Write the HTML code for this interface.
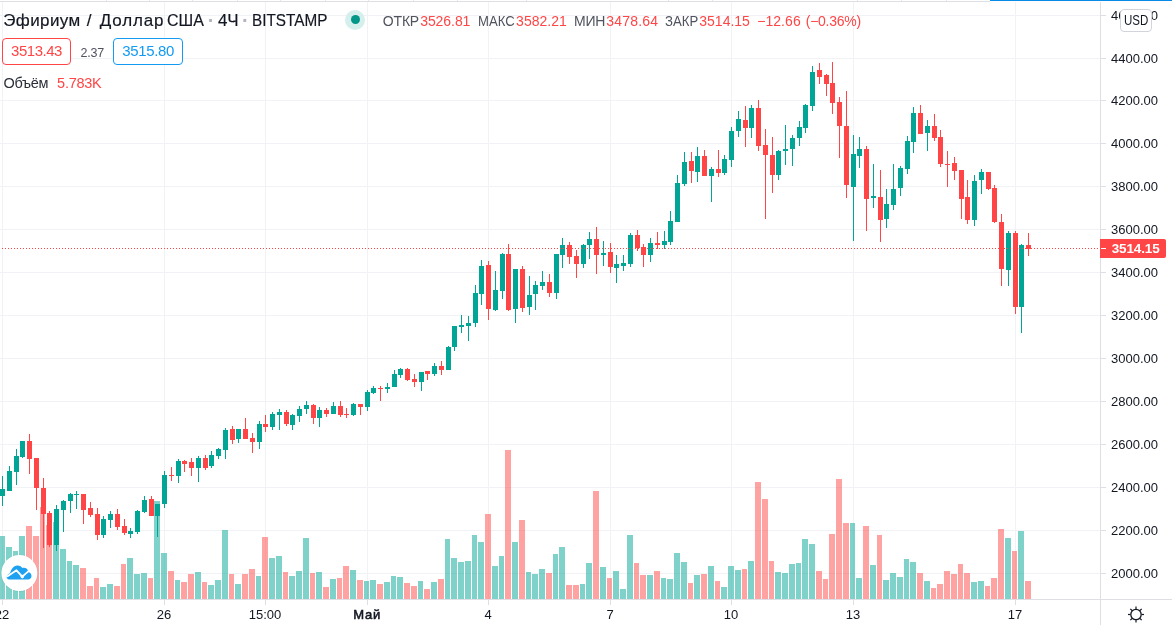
<!DOCTYPE html>
<html lang="ru"><head><meta charset="utf-8"><title>ETHUSD</title>
<style>
html,body{margin:0;padding:0;background:#fff}
body{width:1172px;height:625px;position:relative;overflow:hidden;font-family:"Liberation Sans",sans-serif;color:#131722}
.t{position:absolute;white-space:nowrap;line-height:1}
.pl{left:1111px;font-size:13px;width:47px;text-align:left}
.tl{top:608px;font-size:13px;text-align:center;width:60px}

.box{position:absolute;box-sizing:border-box;border:1px solid;border-radius:4px;background:#fff}
</style></head><body>

<svg width="1172" height="625" viewBox="0 0 1172 625" shape-rendering="crispEdges" style="position:absolute;left:0;top:0">
<path fill="#f1f2f5" d="M0 15h1100v1H0zM0 58h1100v1H0zM0 100h1100v1H0zM0 143h1100v1H0zM0 186h1100v1H0zM0 229h1100v1H0zM0 272h1100v1H0zM0 315h1100v1H0zM0 358h1100v1H0zM0 401h1100v1H0zM0 444h1100v1H0zM0 487h1100v1H0zM0 530h1100v1H0zM0 573h1100v1H0zM2 2h1v597h-1zM164 2h1v597h-1zM265 2h1v597h-1zM367 2h1v597h-1zM488 2h1v597h-1zM610 2h1v597h-1zM731 2h1v597h-1zM853 2h1v597h-1zM1015 2h1v597h-1z"/>
<path fill="#00a596" fill-opacity=".5" d="M-1 536H5V599H-1zM6 547H12V599H6zM13 551H18V599H13zM19 536H25V599H19zM53 522H59V599H53zM60 549H66V599H60zM67 561H72V599H67zM73 565H79V599H73zM100 587H106V599H100zM107 584H113V599H107zM127 558H133V599H127zM134 574H140V599H134zM141 573H147V599H141zM154 501H160V599H154zM161 553H167V599H161zM175 580H180V599H175zM195 572H201V599H195zM208 585H214V599H208zM215 580H221V599H215zM222 530H228V599H222zM235 584H241V599H235zM256 576H261V599H256zM269 558H275V599H269zM276 556H282V599H276zM289 576H295V599H289zM296 571H302V599H296zM303 538H309V599H303zM316 572H322V599H316zM330 579H336V599H330zM350 570H356V599H350zM364 581H369V599H364zM370 580H376V599H370zM384 582H390V599H384zM391 576H396V599H391zM397 577H403V599H397zM418 581H423V599H418zM431 582H437V599H431zM445 539H450V599H445zM451 558H457V599H451zM458 562H464V599H458zM465 561H471V599H465zM472 535H477V599H472zM478 542H484V599H478zM492 566H498V599H492zM499 556H504V599H499zM512 542H518V599H512zM526 572H531V599H526zM532 574H538V599H532zM539 569H545V599H539zM553 554H558V599H553zM559 547H565V599H559zM580 584H585V599H580zM586 563H592V599H586zM600 567H606V599H600zM613 571H619V599H613zM620 589H626V599H620zM627 535H633V599H627zM647 575H653V599H647zM661 578H666V599H661zM667 579H673V599H667zM674 553H680V599H674zM681 562H687V599H681zM694 575H700V599H694zM708 566H714V599H708zM721 587H727V599H721zM728 566H734V599H728zM735 570H741V599H735zM748 561H754V599H748zM775 572H781V599H775zM782 573H788V599H782zM789 564H795V599H789zM796 563H801V599H796zM802 539H808V599H802zM809 544H815V599H809zM850 523H855V599H850zM856 578H862V599H856zM870 565H876V599H870zM883 580H889V599H883zM890 573H896V599H890zM897 577H903V599H897zM904 559H909V599H904zM910 562H916V599H910zM924 581H930V599H924zM971 582H977V599H971zM978 581H984V599H978zM1005 538H1011V599H1005zM1018 531H1024V599H1018z"/>
<path fill="#ff4545" fill-opacity=".5" d="M26 526H32V599H26zM33 536H39V599H33zM40 507H45V599H40zM46 525H52V599H46zM80 568H86V599H80zM87 586H93V599H87zM94 578H99V599H94zM114 586H120V599H114zM121 564H126V599H121zM148 578H153V599H148zM168 571H174V599H168zM181 582H187V599H181zM188 574H194V599H188zM202 582H207V599H202zM229 574H234V599H229zM242 574H248V599H242zM249 569H255V599H249zM262 537H268V599H262zM283 572H288V599H283zM310 573H315V599H310zM323 587H329V599H323zM337 578H342V599H337zM343 566H349V599H343zM357 580H363V599H357zM377 584H383V599H377zM404 583H410V599H404zM411 586H417V599H411zM424 589H430V599H424zM438 579H444V599H438zM485 514H491V599H485zM505 450H511V599H505zM519 520H525V599H519zM546 573H552V599H546zM566 585H572V599H566zM573 585H579V599H573zM593 491H599V599H593zM607 578H612V599H607zM634 563H639V599H634zM640 575H646V599H640zM654 571H660V599H654zM688 583H693V599H688zM701 574H707V599H701zM715 581H720V599H715zM742 569H747V599H742zM755 482H761V599H755zM762 499H768V599H762zM769 561H774V599H769zM816 571H822V599H816zM823 579H828V599H823zM829 534H835V599H829zM836 479H842V599H836zM843 523H849V599H843zM863 526H869V599H863zM877 535H882V599H877zM917 573H923V599H917zM931 588H936V599H931zM937 584H943V599H937zM944 571H950V599H944zM951 574H957V599H951zM958 564H963V599H958zM964 573H970V599H964zM985 586H990V599H985zM991 578H997V599H991zM998 529H1004V599H998zM1012 551H1017V599H1012zM1025 581H1031V599H1025z"/>
<path fill="#00a596" d="M2 476h1V506h-1zM0 489h5V496h-5zM9 466h1V491h-1zM7 471h5V491h-5zM16 449h1V485h-1zM14 456h5V472h-5zM22 441h1V458h-1zM20 441h5V457h-5zM56 505h1V551h-1zM54 509h5V545h-5zM63 500h1V532h-1zM61 501h5V510h-5zM70 493h1V513h-1zM68 494h5V501h-5zM76 491h1V509h-1zM74 494h5V495h-5zM103 516h1V538h-1zM101 519h5V535h-5zM110 511h1V528h-1zM108 514h5V520h-5zM130 528h1V538h-1zM128 531h5V534h-5zM137 510h1V534h-1zM135 511h5V532h-5zM144 496h1V513h-1zM142 500h5V512h-5zM157 504h1V537h-1zM155 504h5V516h-5zM164 471h1V508h-1zM162 475h5V504h-5zM178 459h1V483h-1zM176 461h5V476h-5zM198 456h1V482h-1zM196 458h5V468h-5zM211 451h1V468h-1zM209 455h5V466h-5zM218 448h1V459h-1zM216 449h5V456h-5zM225 428h1V459h-1zM223 430h5V450h-5zM238 429h1V443h-1zM236 429h5V439h-5zM259 421h1V449h-1zM257 424h5V442h-5zM272 412h1V430h-1zM270 414h5V427h-5zM279 409h1V430h-1zM277 412h5V415h-5zM292 414h1V430h-1zM290 415h5V425h-5zM299 406h1V422h-1zM297 409h5V416h-5zM306 401h1V414h-1zM304 405h5V409h-5zM319 407h1V427h-1zM317 410h5V418h-5zM333 402h1V414h-1zM331 406h5V414h-5zM353 403h1V416h-1zM351 404h5V415h-5zM367 390h1V411h-1zM365 392h5V407h-5zM373 386h1V394h-1zM371 388h5V393h-5zM387 383h1V393h-1zM385 387h5V389h-5zM394 370h1V387h-1zM392 374h5V387h-5zM400 368h1V378h-1zM398 369h5V375h-5zM421 372h1V391h-1zM419 372h5V382h-5zM434 363h1V376h-1zM432 366h5V374h-5zM448 346h1V370h-1zM446 347h5V370h-5zM454 326h1V351h-1zM452 326h5V347h-5zM461 315h1V333h-1zM459 325h5V327h-5zM468 316h1V341h-1zM466 323h5V326h-5zM475 285h1V327h-1zM473 293h5V323h-5zM481 260h1V305h-1zM479 266h5V294h-5zM495 271h1V311h-1zM493 290h5V310h-5zM502 253h1V299h-1zM500 254h5V291h-5zM515 269h1V323h-1zM513 269h5V309h-5zM529 276h1V315h-1zM527 295h5V307h-5zM535 281h1V310h-1zM533 285h5V294h-5zM542 271h1V290h-1zM540 282h5V286h-5zM556 254h1V299h-1zM554 254h5V293h-5zM562 238h1V268h-1zM560 245h5V255h-5zM583 244h1V268h-1zM581 245h5V264h-5zM589 232h1V259h-1zM587 239h5V245h-5zM603 241h1V266h-1zM601 253h5V255h-5zM616 255h1V283h-1zM614 264h5V268h-5zM623 255h1V271h-1zM621 263h5V266h-5zM630 233h1V267h-1zM628 235h5V264h-5zM650 238h1V262h-1zM648 243h5V255h-5zM664 231h1V249h-1zM662 241h5V245h-5zM670 211h1V245h-1zM668 221h5V242h-5zM677 175h1V222h-1zM675 183h5V222h-5zM684 152h1V186h-1zM682 162h5V184h-5zM697 147h1V182h-1zM695 156h5V172h-5zM711 167h1V202h-1zM709 169h5V176h-5zM724 155h1V175h-1zM722 159h5V173h-5zM731 127h1V167h-1zM729 131h5V160h-5zM738 111h1V137h-1zM736 119h5V131h-5zM751 105h1V138h-1zM749 108h5V128h-5zM778 150h1V180h-1zM776 151h5V175h-5zM785 125h1V165h-1zM783 149h5V151h-5zM792 135h1V166h-1zM790 138h5V149h-5zM799 121h1V146h-1zM797 127h5V138h-5zM805 104h1V133h-1zM803 105h5V128h-5zM812 66h1V111h-1zM810 72h5V106h-5zM853 135h1V241h-1zM851 154h5V187h-5zM859 137h1V168h-1zM857 149h5V156h-5zM873 164h1V208h-1zM871 196h5V198h-5zM886 189h1V228h-1zM884 204h5V219h-5zM893 164h1V210h-1zM891 189h5V205h-5zM900 166h1V196h-1zM898 168h5V188h-5zM907 136h1V174h-1zM905 141h5V169h-5zM913 107h1V153h-1zM911 113h5V142h-5zM927 120h1V151h-1zM925 126h5V133h-5zM974 175h1V226h-1zM972 181h5V220h-5zM981 169h1V194h-1zM979 172h5V180h-5zM1008 231h1V286h-1zM1006 233h5V270h-5zM1021 244h1V333h-1zM1019 245h5V307h-5z"/>
<path fill="#ff4545" d="M29 434h1V474h-1zM27 441h5V459h-5zM36 458h1V510h-1zM34 458h5V488h-5zM43 478h1V548h-1zM41 488h5V514h-5zM49 511h1V547h-1zM47 513h5V545h-5zM83 494h1V524h-1zM81 494h5V510h-5zM90 502h1V517h-1zM88 508h5V515h-5zM97 508h1V540h-1zM95 514h5V535h-5zM117 509h1V530h-1zM115 514h5V527h-5zM124 519h1V535h-1zM122 526h5V533h-5zM151 496h1V516h-1zM149 499h5V516h-5zM171 467h1V481h-1zM169 475h5V476h-5zM184 460h1V472h-1zM182 461h5V464h-5zM191 458h1V476h-1zM189 462h5V468h-5zM205 455h1V470h-1zM203 458h5V468h-5zM232 426h1V444h-1zM230 429h5V440h-5zM245 418h1V439h-1zM243 429h5V439h-5zM252 433h1V453h-1zM250 438h5V442h-5zM265 415h1V432h-1zM263 424h5V427h-5zM286 410h1V426h-1zM284 412h5V424h-5zM313 404h1V424h-1zM311 405h5V418h-5zM326 408h1V417h-1zM324 410h5V414h-5zM340 401h1V417h-1zM338 406h5V415h-5zM346 408h1V418h-1zM344 414h5V415h-5zM360 404h1V415h-1zM358 404h5V407h-5zM380 386h1V401h-1zM378 388h5V389h-5zM407 368h1V381h-1zM405 369h5V380h-5zM414 374h1V387h-1zM412 379h5V382h-5zM427 371h1V380h-1zM425 371h5V374h-5zM441 361h1V375h-1zM439 366h5V370h-5zM488 261h1V320h-1zM486 265h5V309h-5zM508 244h1V311h-1zM506 254h5V310h-5zM522 266h1V312h-1zM520 269h5V308h-5zM549 274h1V297h-1zM547 282h5V293h-5zM569 242h1V264h-1zM567 245h5V257h-5zM576 250h1V278h-1zM574 256h5V264h-5zM596 227h1V274h-1zM594 239h5V255h-5zM610 243h1V273h-1zM608 252h5V267h-5zM637 230h1V251h-1zM635 235h5V248h-5zM643 244h1V267h-1zM641 247h5V255h-5zM657 232h1V249h-1zM655 243h5V245h-5zM691 152h1V183h-1zM689 161h5V171h-5zM704 150h1V176h-1zM702 156h5V176h-5zM718 150h1V177h-1zM716 169h5V173h-5zM745 106h1V147h-1zM743 120h5V128h-5zM758 100h1V151h-1zM756 108h5V146h-5zM765 129h1V219h-1zM763 145h5V155h-5zM772 137h1V193h-1zM770 155h5V175h-5zM819 63h1V84h-1zM817 70h5V77h-5zM826 74h1V96h-1zM824 75h5V84h-5zM832 62h1V114h-1zM830 83h5V103h-5zM839 97h1V158h-1zM837 102h5V126h-5zM846 91h1V198h-1zM844 126h5V185h-5zM866 146h1V231h-1zM864 149h5V199h-5zM880 170h1V242h-1zM878 197h5V220h-5zM920 105h1V134h-1zM918 113h5V134h-5zM934 114h1V141h-1zM932 126h5V138h-5zM940 130h1V167h-1zM938 137h5V164h-5zM947 151h1V187h-1zM945 164h5V165h-5zM954 157h1V180h-1zM952 163h5V171h-5zM961 170h1V219h-1zM959 170h5V199h-5zM967 180h1V224h-1zM965 197h5V220h-5zM988 172h1V190h-1zM986 172h5V189h-5zM994 185h1V223h-1zM992 188h5V222h-5zM1001 214h1V286h-1zM999 222h5V269h-5zM1015 231h1V314h-1zM1013 233h5V307h-5zM1028 233h1V256h-1zM1026 245h5V249h-5z"/>
<path fill="#ff4545" d="M2 248h1v1h-1zM5 248h1v1h-1zM8 248h1v1h-1zM11 248h1v1h-1zM14 248h1v1h-1zM17 248h1v1h-1zM20 248h1v1h-1zM23 248h1v1h-1zM26 248h1v1h-1zM29 248h1v1h-1zM32 248h1v1h-1zM35 248h1v1h-1zM38 248h1v1h-1zM41 248h1v1h-1zM44 248h1v1h-1zM47 248h1v1h-1zM50 248h1v1h-1zM53 248h1v1h-1zM56 248h1v1h-1zM59 248h1v1h-1zM62 248h1v1h-1zM65 248h1v1h-1zM68 248h1v1h-1zM71 248h1v1h-1zM74 248h1v1h-1zM77 248h1v1h-1zM80 248h1v1h-1zM83 248h1v1h-1zM86 248h1v1h-1zM89 248h1v1h-1zM92 248h1v1h-1zM95 248h1v1h-1zM98 248h1v1h-1zM101 248h1v1h-1zM104 248h1v1h-1zM107 248h1v1h-1zM110 248h1v1h-1zM113 248h1v1h-1zM116 248h1v1h-1zM119 248h1v1h-1zM122 248h1v1h-1zM125 248h1v1h-1zM128 248h1v1h-1zM131 248h1v1h-1zM134 248h1v1h-1zM137 248h1v1h-1zM140 248h1v1h-1zM143 248h1v1h-1zM146 248h1v1h-1zM149 248h1v1h-1zM152 248h1v1h-1zM155 248h1v1h-1zM158 248h1v1h-1zM161 248h1v1h-1zM164 248h1v1h-1zM167 248h1v1h-1zM170 248h1v1h-1zM173 248h1v1h-1zM176 248h1v1h-1zM179 248h1v1h-1zM182 248h1v1h-1zM185 248h1v1h-1zM188 248h1v1h-1zM191 248h1v1h-1zM194 248h1v1h-1zM197 248h1v1h-1zM200 248h1v1h-1zM203 248h1v1h-1zM206 248h1v1h-1zM209 248h1v1h-1zM212 248h1v1h-1zM215 248h1v1h-1zM218 248h1v1h-1zM221 248h1v1h-1zM224 248h1v1h-1zM227 248h1v1h-1zM230 248h1v1h-1zM233 248h1v1h-1zM236 248h1v1h-1zM239 248h1v1h-1zM242 248h1v1h-1zM245 248h1v1h-1zM248 248h1v1h-1zM251 248h1v1h-1zM254 248h1v1h-1zM257 248h1v1h-1zM260 248h1v1h-1zM263 248h1v1h-1zM266 248h1v1h-1zM269 248h1v1h-1zM272 248h1v1h-1zM275 248h1v1h-1zM278 248h1v1h-1zM281 248h1v1h-1zM284 248h1v1h-1zM287 248h1v1h-1zM290 248h1v1h-1zM293 248h1v1h-1zM296 248h1v1h-1zM299 248h1v1h-1zM302 248h1v1h-1zM305 248h1v1h-1zM308 248h1v1h-1zM311 248h1v1h-1zM314 248h1v1h-1zM317 248h1v1h-1zM320 248h1v1h-1zM323 248h1v1h-1zM326 248h1v1h-1zM329 248h1v1h-1zM332 248h1v1h-1zM335 248h1v1h-1zM338 248h1v1h-1zM341 248h1v1h-1zM344 248h1v1h-1zM347 248h1v1h-1zM350 248h1v1h-1zM353 248h1v1h-1zM356 248h1v1h-1zM359 248h1v1h-1zM362 248h1v1h-1zM365 248h1v1h-1zM368 248h1v1h-1zM371 248h1v1h-1zM374 248h1v1h-1zM377 248h1v1h-1zM380 248h1v1h-1zM383 248h1v1h-1zM386 248h1v1h-1zM389 248h1v1h-1zM392 248h1v1h-1zM395 248h1v1h-1zM398 248h1v1h-1zM401 248h1v1h-1zM404 248h1v1h-1zM407 248h1v1h-1zM410 248h1v1h-1zM413 248h1v1h-1zM416 248h1v1h-1zM419 248h1v1h-1zM422 248h1v1h-1zM425 248h1v1h-1zM428 248h1v1h-1zM431 248h1v1h-1zM434 248h1v1h-1zM437 248h1v1h-1zM440 248h1v1h-1zM443 248h1v1h-1zM446 248h1v1h-1zM449 248h1v1h-1zM452 248h1v1h-1zM455 248h1v1h-1zM458 248h1v1h-1zM461 248h1v1h-1zM464 248h1v1h-1zM467 248h1v1h-1zM470 248h1v1h-1zM473 248h1v1h-1zM476 248h1v1h-1zM479 248h1v1h-1zM482 248h1v1h-1zM485 248h1v1h-1zM488 248h1v1h-1zM491 248h1v1h-1zM494 248h1v1h-1zM497 248h1v1h-1zM500 248h1v1h-1zM503 248h1v1h-1zM506 248h1v1h-1zM509 248h1v1h-1zM512 248h1v1h-1zM515 248h1v1h-1zM518 248h1v1h-1zM521 248h1v1h-1zM524 248h1v1h-1zM527 248h1v1h-1zM530 248h1v1h-1zM533 248h1v1h-1zM536 248h1v1h-1zM539 248h1v1h-1zM542 248h1v1h-1zM545 248h1v1h-1zM548 248h1v1h-1zM551 248h1v1h-1zM554 248h1v1h-1zM557 248h1v1h-1zM560 248h1v1h-1zM563 248h1v1h-1zM566 248h1v1h-1zM569 248h1v1h-1zM572 248h1v1h-1zM575 248h1v1h-1zM578 248h1v1h-1zM581 248h1v1h-1zM584 248h1v1h-1zM587 248h1v1h-1zM590 248h1v1h-1zM593 248h1v1h-1zM596 248h1v1h-1zM599 248h1v1h-1zM602 248h1v1h-1zM605 248h1v1h-1zM608 248h1v1h-1zM611 248h1v1h-1zM614 248h1v1h-1zM617 248h1v1h-1zM620 248h1v1h-1zM623 248h1v1h-1zM626 248h1v1h-1zM629 248h1v1h-1zM632 248h1v1h-1zM635 248h1v1h-1zM638 248h1v1h-1zM641 248h1v1h-1zM644 248h1v1h-1zM647 248h1v1h-1zM650 248h1v1h-1zM653 248h1v1h-1zM656 248h1v1h-1zM659 248h1v1h-1zM662 248h1v1h-1zM665 248h1v1h-1zM668 248h1v1h-1zM671 248h1v1h-1zM674 248h1v1h-1zM677 248h1v1h-1zM680 248h1v1h-1zM683 248h1v1h-1zM686 248h1v1h-1zM689 248h1v1h-1zM692 248h1v1h-1zM695 248h1v1h-1zM698 248h1v1h-1zM701 248h1v1h-1zM704 248h1v1h-1zM707 248h1v1h-1zM710 248h1v1h-1zM713 248h1v1h-1zM716 248h1v1h-1zM719 248h1v1h-1zM722 248h1v1h-1zM725 248h1v1h-1zM728 248h1v1h-1zM731 248h1v1h-1zM734 248h1v1h-1zM737 248h1v1h-1zM740 248h1v1h-1zM743 248h1v1h-1zM746 248h1v1h-1zM749 248h1v1h-1zM752 248h1v1h-1zM755 248h1v1h-1zM758 248h1v1h-1zM761 248h1v1h-1zM764 248h1v1h-1zM767 248h1v1h-1zM770 248h1v1h-1zM773 248h1v1h-1zM776 248h1v1h-1zM779 248h1v1h-1zM782 248h1v1h-1zM785 248h1v1h-1zM788 248h1v1h-1zM791 248h1v1h-1zM794 248h1v1h-1zM797 248h1v1h-1zM800 248h1v1h-1zM803 248h1v1h-1zM806 248h1v1h-1zM809 248h1v1h-1zM812 248h1v1h-1zM815 248h1v1h-1zM818 248h1v1h-1zM821 248h1v1h-1zM824 248h1v1h-1zM827 248h1v1h-1zM830 248h1v1h-1zM833 248h1v1h-1zM836 248h1v1h-1zM839 248h1v1h-1zM842 248h1v1h-1zM845 248h1v1h-1zM848 248h1v1h-1zM851 248h1v1h-1zM854 248h1v1h-1zM857 248h1v1h-1zM860 248h1v1h-1zM863 248h1v1h-1zM866 248h1v1h-1zM869 248h1v1h-1zM872 248h1v1h-1zM875 248h1v1h-1zM878 248h1v1h-1zM881 248h1v1h-1zM884 248h1v1h-1zM887 248h1v1h-1zM890 248h1v1h-1zM893 248h1v1h-1zM896 248h1v1h-1zM899 248h1v1h-1zM902 248h1v1h-1zM905 248h1v1h-1zM908 248h1v1h-1zM911 248h1v1h-1zM914 248h1v1h-1zM917 248h1v1h-1zM920 248h1v1h-1zM923 248h1v1h-1zM926 248h1v1h-1zM929 248h1v1h-1zM932 248h1v1h-1zM935 248h1v1h-1zM938 248h1v1h-1zM941 248h1v1h-1zM944 248h1v1h-1zM947 248h1v1h-1zM950 248h1v1h-1zM953 248h1v1h-1zM956 248h1v1h-1zM959 248h1v1h-1zM962 248h1v1h-1zM965 248h1v1h-1zM968 248h1v1h-1zM971 248h1v1h-1zM974 248h1v1h-1zM977 248h1v1h-1zM980 248h1v1h-1zM983 248h1v1h-1zM986 248h1v1h-1zM989 248h1v1h-1zM992 248h1v1h-1zM995 248h1v1h-1zM998 248h1v1h-1zM1001 248h1v1h-1zM1004 248h1v1h-1zM1007 248h1v1h-1zM1010 248h1v1h-1zM1013 248h1v1h-1zM1016 248h1v1h-1zM1019 248h1v1h-1zM1022 248h1v1h-1zM1025 248h1v1h-1zM1028 248h1v1h-1zM1031 248h1v1h-1zM1034 248h1v1h-1zM1037 248h1v1h-1zM1040 248h1v1h-1zM1043 248h1v1h-1zM1046 248h1v1h-1zM1049 248h1v1h-1zM1052 248h1v1h-1zM1055 248h1v1h-1zM1058 248h1v1h-1zM1061 248h1v1h-1zM1064 248h1v1h-1zM1067 248h1v1h-1zM1070 248h1v1h-1zM1073 248h1v1h-1zM1076 248h1v1h-1zM1079 248h1v1h-1zM1082 248h1v1h-1zM1085 248h1v1h-1zM1088 248h1v1h-1zM1091 248h1v1h-1zM1094 248h1v1h-1zM1097 248h1v1h-1z"/>
<path fill="#dedfe4" d="M1100 2h1v623h-1zM0 599h1172v1H0zM1101 15h5v1h-5zM1101 58h5v1h-5zM1101 100h5v1h-5zM1101 143h5v1h-5zM1101 186h5v1h-5zM1101 229h5v1h-5zM1101 272h5v1h-5zM1101 315h5v1h-5zM1101 358h5v1h-5zM1101 401h5v1h-5zM1101 444h5v1h-5zM1101 487h5v1h-5zM1101 530h5v1h-5zM1101 573h5v1h-5zM2 600h1v5h-1zM164 600h1v5h-1zM265 600h1v5h-1zM367 600h1v5h-1zM488 600h1v5h-1zM610 600h1v5h-1zM731 600h1v5h-1zM853 600h1v5h-1zM1015 600h1v5h-1z"/>
<path fill="#dedfe4" d="M0 1h990v1H0z"/>
<path fill="#e4e6eb" d="M106 0h1v1h-1zM149 0h1v1h-1zM192 0h1v1h-1zM237 0h1v1h-1zM280 0h1v1h-1zM325 0h1v1h-1zM368 0h1v1h-1zM413 0h1v1h-1zM457 0h1v1h-1zM526 0h1v1h-1zM668 0h1v1h-1zM712 0h1v1h-1zM857 0h1v1h-1zM901 0h1v1h-1zM946 0h1v1h-1z"/>
<path fill="#0a8ae8" d="M990 0h182v1H990z"/>
</svg>
<div class="t pl" style="top:9px">4600.00</div>
<div class="t pl" style="top:52px">4400.00</div>
<div class="t pl" style="top:94px">4200.00</div>
<div class="t pl" style="top:137px">4000.00</div>
<div class="t pl" style="top:180px">3800.00</div>
<div class="t pl" style="top:223px">3600.00</div>
<div class="t pl" style="top:266px">3400.00</div>
<div class="t pl" style="top:309px">3200.00</div>
<div class="t pl" style="top:352px">3000.00</div>
<div class="t pl" style="top:395px">2800.00</div>
<div class="t pl" style="top:438px">2600.00</div>
<div class="t pl" style="top:481px">2400.00</div>
<div class="t pl" style="top:524px">2200.00</div>
<div class="t pl" style="top:567px">2000.00</div>
<div class="box" style="left:1120px;top:9px;width:32px;height:23px;border-color:#d1d4dc"></div>
<div style="position:absolute;left:1100px;top:239px;width:66px;height:19px;background:#ff4545;border-radius:0 2px 2px 0"></div>
<div style="position:absolute;left:1101px;top:248px;width:5px;height:1px;background:#fff"></div>
<div class="t tl" style="left:-28px;">22</div>
<div class="t tl" style="left:134px;">26</div>
<div class="t tl" style="left:235px;">15:00</div>
<div class="t" style="left:353.33px;letter-spacing:0.751px;top:608px;font-size:13px;color:#131722;-webkit-text-stroke:0.55px #131722;">Май</div>
<div class="t tl" style="left:458px;">4</div>
<div class="t tl" style="left:580px;">7</div>
<div class="t tl" style="left:701px;">10</div>
<div class="t tl" style="left:823px;">13</div>
<div class="t tl" style="left:985px;">17</div>
<div class="t" style="left:3.17px;letter-spacing:0.407px;top:11.6px;font-size:17px;color:#131722;-webkit-text-stroke:0.18px #131722;">Эфириум</div>
<div class="t" style="left:86.7px;letter-spacing:0px;top:11.6px;font-size:17px;color:#131722;-webkit-text-stroke:0.18px #131722;">/</div>
<div class="t" style="left:99.67px;letter-spacing:0.862px;top:11.6px;font-size:17px;color:#131722;-webkit-text-stroke:0.18px #131722;">Доллар</div>
<div class="t" style="left:166.70px;transform-origin:0 50%;transform:scaleX(0.9401);top:11.6px;font-size:17px;color:#131722;-webkit-text-stroke:0.18px #131722;">США</div>
<div class="t" style="left:217.92px;letter-spacing:-0.098px;top:11.6px;font-size:17px;color:#131722;-webkit-text-stroke:0.18px #131722;">4Ч</div>
<div class="t" style="left:251.54px;transform-origin:0 50%;transform:scaleX(0.8997);top:11.6px;font-size:17px;color:#131722;-webkit-text-stroke:0.18px #131722;">BITSTAMP</div>
<div class="t" style="left:207.8px;top:10.1px;font-size:20px;font-weight:bold;color:#b2b5be">·</div>
<div class="t" style="left:241.9px;top:10.1px;font-size:20px;font-weight:bold;color:#b2b5be">·</div>
<div style="position:absolute;left:345px;top:10px;width:20px;height:20px;border-radius:50%;background:#d4efec"></div>
<div style="position:absolute;left:351px;top:15px;width:9px;height:9px;border-radius:50%;background:#009688"></div>
<div class="t" style="left:382.84px;letter-spacing:-0.187px;top:14.1px;font-size:14px;color:#50535e;">ОТКР</div>
<div class="t" style="left:420.18px;letter-spacing:-0.064px;top:14.1px;font-size:14px;color:#ff4545;">3526.81</div>
<div class="t" style="left:478.02px;transform-origin:0 50%;transform:scaleX(0.9355);top:14.1px;font-size:14px;color:#50535e;">МАКС</div>
<div class="t" style="left:516.08px;letter-spacing:0.019px;top:14.1px;font-size:14px;color:#ff4545;">3582.21</div>
<div class="t" style="left:574.05px;letter-spacing:-0.27px;top:14.1px;font-size:14px;color:#50535e;">МИН</div>
<div class="t" style="left:606.28px;letter-spacing:0.206px;top:14.1px;font-size:14px;color:#ff4545;">3478.64</div>
<div class="t" style="left:664.77px;transform-origin:0 50%;transform:scaleX(0.9416);top:14.1px;font-size:14px;color:#50535e;">ЗАКР</div>
<div class="t" style="left:699.28px;letter-spacing:0.002px;top:14.1px;font-size:14px;color:#ff4545;">3514.15</div>
<div class="t" style="left:757.2px;letter-spacing:0.061px;top:14.1px;font-size:14px;color:#ff4545;">−12.66</div>
<div class="t" style="left:805.72px;letter-spacing:-0.249px;top:14.1px;font-size:14px;color:#ff4545;">(−0.36%)</div>
<div class="box" style="left:2px;top:38px;width:69px;height:27px;border-color:#ff4545"></div>
<div class="t" style="left:11.04px;letter-spacing:-0.465px;top:42.7px;font-size:15px;color:#ff4545;">3513.43</div>
<div class="t" style="left:80.38px;letter-spacing:-0.154px;top:46.6px;font-size:12.5px;color:#50535e;">2.37</div>
<div class="box" style="left:113px;top:38px;width:70px;height:27px;border-color:#149af2"></div>
<div class="t" style="left:122.34px;letter-spacing:-0.377px;top:42.7px;font-size:15px;color:#149af2;">3515.80</div>
<div class="t" style="left:3.61px;letter-spacing:-0.345px;top:76.3px;font-size:14.5px;color:#2a2e39;">Объём</div>
<div class="t" style="left:57.12px;letter-spacing:-0.281px;top:76.3px;font-size:14.5px;color:#ff4545;">5.783K</div>
<div class="t" style="left:1123.71px;transform-origin:0 50%;transform:scaleX(0.8230);top:13.2px;font-size:14px;color:#131722;">USD</div>
<div class="t" style="left:1111.65px;letter-spacing:-0.124px;top:241.6px;font-size:13.5px;color:#fff;font-weight:bold;">3514.15</div>
<svg width="44" height="44" viewBox="0 0 44 44" style="position:absolute;left:-3px;top:551px">
<circle cx="22.4" cy="22.2" r="18.6" fill="#000" opacity="0.06"/>
<circle cx="22.4" cy="22" r="18" fill="#fff"/>
<path fill="#1ea1f1" d="M12 28.4c-1.6 0-2.5-1.2-2.3-2.6.2-1.5 1.5-3 3.300-3.600.9-3.700 3.600-7.600 7.200-7.800 2.700-.1 4.300 1.300 5.300 2.600 1.200-.5 2.800-.4 4 .6 1.200 1 1.600 2.200 1.700 3.400 1.700.4 3.300 1.900 3.300 3.900 0 2-1.600 3.500-3.400 3.500z"/>
<path fill="none" stroke="#fff" stroke-width="1.9" stroke-linejoin="round" stroke-linecap="round" d="M10.500 25.200l9-5.900 5.800 6.300 6.600-5.700"/>
<circle cx="25.300" cy="25.600" r="1.800" fill="#fff"/>
</svg>
<svg width="22" height="22" viewBox="-11 -11.5 22 22" style="position:absolute;left:1125px;top:603px"><circle r="5.200" fill="none" stroke="#131722" stroke-width="1.300"/><line x1="5.60" y1="0.00" x2="8.00" y2="0.00" stroke="#131722" stroke-width="1.200"/><line x1="3.96" y1="3.96" x2="5.66" y2="5.66" stroke="#131722" stroke-width="1.200"/><line x1="0.00" y1="5.60" x2="0.00" y2="8.00" stroke="#131722" stroke-width="1.200"/><line x1="-3.96" y1="3.96" x2="-5.66" y2="5.66" stroke="#131722" stroke-width="1.200"/><line x1="-5.60" y1="0.00" x2="-8.00" y2="0.00" stroke="#131722" stroke-width="1.200"/><line x1="-3.96" y1="-3.96" x2="-5.66" y2="-5.66" stroke="#131722" stroke-width="1.200"/><line x1="-0.00" y1="-5.60" x2="-0.00" y2="-8.00" stroke="#131722" stroke-width="1.200"/><line x1="3.96" y1="-3.96" x2="5.66" y2="-5.66" stroke="#131722" stroke-width="1.200"/></svg>
</body></html>
